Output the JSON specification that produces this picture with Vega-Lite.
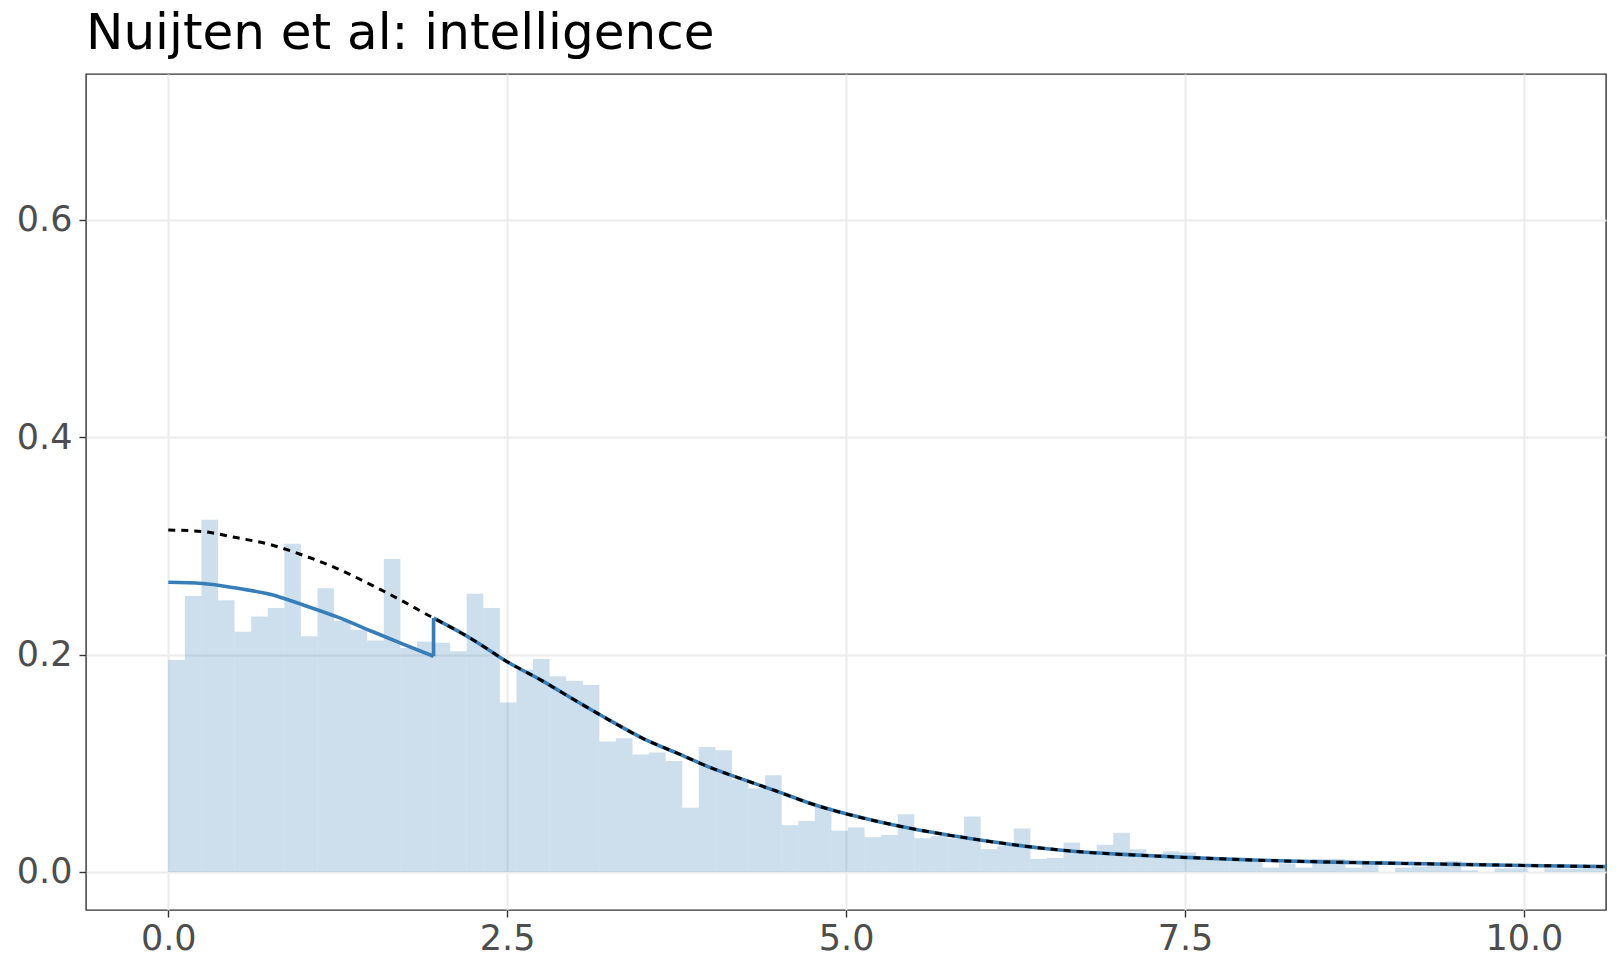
{
  "$schema": "https://vega.github.io/schema/vega-lite/v6.json",
  "description": "Nuijten et al: intelligence - histogram with adjusted and unadjusted density curves.",
  "width": 1520,
  "height": 836,
  "autosize": {"type": "none"},
  "padding": {"left": 86, "top": 74, "right": 14, "bottom": 62},
  "background": "white",
  "title": {
    "text": "Nuijten et al: intelligence",
    "anchor": "start",
    "frame": "group",
    "font": "DejaVu Sans",
    "fontSize": 50,
    "fontWeight": "normal",
    "color": "#000000",
    "baseline": "alphabetic",
    "offset": 25,
    "dy": 50
  },
  "datasets": {
    "hist": [
      {"lo": 0.0, "hi": 0.1223, "density": 0.195},
      {"lo": 0.1223, "hi": 0.2446, "density": 0.254},
      {"lo": 0.2446, "hi": 0.3669, "density": 0.324},
      {"lo": 0.3669, "hi": 0.4892, "density": 0.25},
      {"lo": 0.4892, "hi": 0.6115, "density": 0.221},
      {"lo": 0.6115, "hi": 0.7338, "density": 0.235},
      {"lo": 0.7338, "hi": 0.8561, "density": 0.243},
      {"lo": 0.8561, "hi": 0.9784, "density": 0.302},
      {"lo": 0.9784, "hi": 1.1007, "density": 0.217},
      {"lo": 1.1007, "hi": 1.223, "density": 0.261},
      {"lo": 1.223, "hi": 1.3453, "density": 0.231},
      {"lo": 1.3453, "hi": 1.4676, "density": 0.223},
      {"lo": 1.4676, "hi": 1.5899, "density": 0.213},
      {"lo": 1.5899, "hi": 1.7122, "density": 0.288},
      {"lo": 1.7122, "hi": 1.8345, "density": 0.206},
      {"lo": 1.8345, "hi": 1.9568, "density": 0.212},
      {"lo": 1.9568, "hi": 2.0791, "density": 0.211},
      {"lo": 2.0791, "hi": 2.2014, "density": 0.203},
      {"lo": 2.2014, "hi": 2.3237, "density": 0.256},
      {"lo": 2.3237, "hi": 2.446, "density": 0.243},
      {"lo": 2.446, "hi": 2.5683, "density": 0.156},
      {"lo": 2.5683, "hi": 2.6906, "density": 0.186},
      {"lo": 2.6906, "hi": 2.8129, "density": 0.196},
      {"lo": 2.8129, "hi": 2.9352, "density": 0.18},
      {"lo": 2.9352, "hi": 3.0575, "density": 0.176},
      {"lo": 3.0575, "hi": 3.1798, "density": 0.172},
      {"lo": 3.1798, "hi": 3.3021, "density": 0.12},
      {"lo": 3.3021, "hi": 3.4244, "density": 0.123},
      {"lo": 3.4244, "hi": 3.5467, "density": 0.108},
      {"lo": 3.5467, "hi": 3.669, "density": 0.11},
      {"lo": 3.669, "hi": 3.7913, "density": 0.102},
      {"lo": 3.7913, "hi": 3.9136, "density": 0.059},
      {"lo": 3.9136, "hi": 4.0359, "density": 0.115},
      {"lo": 4.0359, "hi": 4.1582, "density": 0.112},
      {"lo": 4.1582, "hi": 4.2805, "density": 0.085},
      {"lo": 4.2805, "hi": 4.4028, "density": 0.077},
      {"lo": 4.4028, "hi": 4.5251, "density": 0.089},
      {"lo": 4.5251, "hi": 4.6474, "density": 0.043},
      {"lo": 4.6474, "hi": 4.7697, "density": 0.047},
      {"lo": 4.7697, "hi": 4.892, "density": 0.06},
      {"lo": 4.892, "hi": 5.0143, "density": 0.038},
      {"lo": 5.0143, "hi": 5.1366, "density": 0.041},
      {"lo": 5.1366, "hi": 5.2589, "density": 0.032},
      {"lo": 5.2589, "hi": 5.3812, "density": 0.034},
      {"lo": 5.3812, "hi": 5.5035, "density": 0.053},
      {"lo": 5.5035, "hi": 5.6258, "density": 0.031},
      {"lo": 5.6258, "hi": 5.7481, "density": 0.033},
      {"lo": 5.7481, "hi": 5.8704, "density": 0.031},
      {"lo": 5.8704, "hi": 5.9927, "density": 0.051},
      {"lo": 5.9927, "hi": 6.115, "density": 0.021},
      {"lo": 6.115, "hi": 6.2373, "density": 0.024},
      {"lo": 6.2373, "hi": 6.3596, "density": 0.04},
      {"lo": 6.3596, "hi": 6.4819, "density": 0.012},
      {"lo": 6.4819, "hi": 6.6042, "density": 0.013},
      {"lo": 6.6042, "hi": 6.7265, "density": 0.027},
      {"lo": 6.7265, "hi": 6.8488, "density": 0.019},
      {"lo": 6.8488, "hi": 6.9711, "density": 0.025},
      {"lo": 6.9711, "hi": 7.0934, "density": 0.036},
      {"lo": 7.0934, "hi": 7.2157, "density": 0.021},
      {"lo": 7.2157, "hi": 7.338, "density": 0.015},
      {"lo": 7.338, "hi": 7.4603, "density": 0.019},
      {"lo": 7.4603, "hi": 7.5826, "density": 0.018},
      {"lo": 7.5826, "hi": 7.7049, "density": 0.012},
      {"lo": 7.7049, "hi": 7.8272, "density": 0.011},
      {"lo": 7.8272, "hi": 7.9495, "density": 0.011},
      {"lo": 7.9495, "hi": 8.0718, "density": 0.01},
      {"lo": 8.0718, "hi": 8.1941, "density": 0.004},
      {"lo": 8.1941, "hi": 8.3164, "density": 0.008},
      {"lo": 8.3164, "hi": 8.4387, "density": 0.004},
      {"lo": 8.4387, "hi": 8.561, "density": 0.012},
      {"lo": 8.561, "hi": 8.6833, "density": 0.012},
      {"lo": 8.6833, "hi": 8.8056, "density": 0.004},
      {"lo": 8.8056, "hi": 8.9279, "density": 0.01},
      {"lo": 8.9279, "hi": 9.0502, "density": 0.0},
      {"lo": 9.0502, "hi": 9.1725, "density": 0.004},
      {"lo": 9.1725, "hi": 9.2948, "density": 0.005},
      {"lo": 9.2948, "hi": 9.4171, "density": 0.008},
      {"lo": 9.4171, "hi": 9.5394, "density": 0.01},
      {"lo": 9.5394, "hi": 9.6617, "density": 0.0015},
      {"lo": 9.6617, "hi": 9.784, "density": 0.0},
      {"lo": 9.784, "hi": 9.9063, "density": 0.0034},
      {"lo": 9.9063, "hi": 10.0286, "density": 0.0034},
      {"lo": 10.0286, "hi": 10.1509, "density": 0.0},
      {"lo": 10.1509, "hi": 10.2732, "density": 0.0034},
      {"lo": 10.2732, "hi": 10.3955, "density": 0.003},
      {"lo": 10.3955, "hi": 10.5178, "density": 0.003},
      {"lo": 10.5178, "hi": 10.6401, "density": 0.003}
    ],
    "adjusted": [
      {"part": "below", "x": 0.0, "y": 0.2666},
      {"part": "below", "x": 0.25, "y": 0.2655},
      {"part": "below", "x": 0.5, "y": 0.2613},
      {"part": "below", "x": 0.75, "y": 0.2555},
      {"part": "below", "x": 1.0, "y": 0.2455},
      {"part": "below", "x": 1.25, "y": 0.2345},
      {"part": "below", "x": 1.5, "y": 0.2215},
      {"part": "below", "x": 1.75, "y": 0.2088},
      {"part": "below", "x": 1.957, "y": 0.1985},
      {"part": "jump", "x": 1.957, "y": 0.1985},
      {"part": "jump", "x": 1.9571, "y": 0.2336},
      {"part": "above", "x": 1.957, "y": 0.2336},
      {"part": "above", "x": 2.0, "y": 0.2308},
      {"part": "above", "x": 2.25, "y": 0.2135},
      {"part": "above", "x": 2.5, "y": 0.1935},
      {"part": "above", "x": 2.75, "y": 0.1765},
      {"part": "above", "x": 3.0, "y": 0.158},
      {"part": "above", "x": 3.25, "y": 0.14},
      {"part": "above", "x": 3.5, "y": 0.123},
      {"part": "above", "x": 3.75, "y": 0.1095},
      {"part": "above", "x": 4.0, "y": 0.096},
      {"part": "above", "x": 4.25, "y": 0.0847},
      {"part": "above", "x": 4.5, "y": 0.0738},
      {"part": "above", "x": 4.75, "y": 0.0625},
      {"part": "above", "x": 5.0, "y": 0.0535},
      {"part": "above", "x": 5.25, "y": 0.046},
      {"part": "above", "x": 5.5, "y": 0.0395},
      {"part": "above", "x": 5.75, "y": 0.034},
      {"part": "above", "x": 6.0, "y": 0.0292},
      {"part": "above", "x": 6.25, "y": 0.0248},
      {"part": "above", "x": 6.5, "y": 0.0212},
      {"part": "above", "x": 6.75, "y": 0.0184},
      {"part": "above", "x": 7.0, "y": 0.0164},
      {"part": "above", "x": 7.25, "y": 0.0149},
      {"part": "above", "x": 7.5, "y": 0.0134},
      {"part": "above", "x": 7.75, "y": 0.0121},
      {"part": "above", "x": 8.0, "y": 0.011},
      {"part": "above", "x": 8.5, "y": 0.0093},
      {"part": "above", "x": 9.0, "y": 0.0081},
      {"part": "above", "x": 9.5, "y": 0.007},
      {"part": "above", "x": 10.0, "y": 0.006},
      {"part": "above", "x": 10.7, "y": 0.0047}
    ],
    "unadjusted": [
      {"x": 0.0, "y": 0.3147},
      {"x": 0.25, "y": 0.3133},
      {"x": 0.5, "y": 0.3077},
      {"x": 0.75, "y": 0.3013},
      {"x": 1.0, "y": 0.2912},
      {"x": 1.25, "y": 0.279},
      {"x": 1.5, "y": 0.264},
      {"x": 1.75, "y": 0.2478},
      {"x": 1.957, "y": 0.2336},
      {"x": 2.0, "y": 0.2308},
      {"x": 2.25, "y": 0.2135},
      {"x": 2.5, "y": 0.1935},
      {"x": 2.75, "y": 0.1765},
      {"x": 3.0, "y": 0.158},
      {"x": 3.25, "y": 0.14},
      {"x": 3.5, "y": 0.123},
      {"x": 3.75, "y": 0.1095},
      {"x": 4.0, "y": 0.096},
      {"x": 4.25, "y": 0.0847},
      {"x": 4.5, "y": 0.0738},
      {"x": 4.75, "y": 0.0625},
      {"x": 5.0, "y": 0.0535},
      {"x": 5.25, "y": 0.046},
      {"x": 5.5, "y": 0.0395},
      {"x": 5.75, "y": 0.034},
      {"x": 6.0, "y": 0.0292},
      {"x": 6.25, "y": 0.0248},
      {"x": 6.5, "y": 0.0212},
      {"x": 6.75, "y": 0.0184},
      {"x": 7.0, "y": 0.0164},
      {"x": 7.25, "y": 0.0149},
      {"x": 7.5, "y": 0.0134},
      {"x": 7.75, "y": 0.0121},
      {"x": 8.0, "y": 0.011},
      {"x": 8.5, "y": 0.0093},
      {"x": 9.0, "y": 0.0081},
      {"x": 9.5, "y": 0.007},
      {"x": 10.0, "y": 0.006},
      {"x": 10.7, "y": 0.0047}
    ]
  },
  "encoding": {
    "x": {
      "type": "quantitative",
      "scale": {"domain": [-0.607, 10.606], "nice": false, "zero": false},
      "axis": {"values": [0, 2.5, 5, 7.5, 10], "format": ".1f", "title": null, "labelPadding": 4}
    },
    "y": {
      "type": "quantitative",
      "scale": {"domain": [-0.035, 0.7343], "nice": false, "zero": false},
      "axis": {"values": [0, 0.2, 0.4, 0.6], "format": ".1f", "title": null, "labelPadding": 7}
    }
  },
  "layer": [
    {
      "data": {"name": "hist"},
      "mark": {"type": "rect", "fill": "#377eb8", "fillOpacity": 0.25, "clip": true},
      "encoding": {
        "x": {"field": "lo"},
        "x2": {"field": "hi"},
        "y": {"field": "density"},
        "y2": {"datum": 0}
      }
    },
    {
      "data": {"name": "adjusted"},
      "mark": {"type": "line", "stroke": "#377eb8", "strokeWidth": 3.6, "interpolate": "monotone", "clip": true},
      "encoding": {
        "x": {"field": "x"},
        "y": {"field": "y"},
        "detail": {"field": "part", "type": "nominal"}
      }
    },
    {
      "data": {"name": "unadjusted"},
      "mark": {"type": "line", "stroke": "#000000", "strokeWidth": 3, "strokeDash": [7, 6], "interpolate": "monotone", "clip": true},
      "encoding": {
        "x": {"field": "x"},
        "y": {"field": "y"}
      }
    }
  ],
  "config": {
    "view": {"stroke": "#333333", "strokeWidth": 1.4},
    "axis": {
      "domain": false,
      "grid": true,
      "gridColor": "#ebebeb",
      "gridWidth": 2,
      "ticks": true,
      "tickColor": "#333333",
      "tickSize": 7,
      "tickWidth": 1.4,
      "labelFont": "DejaVu Sans",
      "labelFontSize": 35,
      "labelColor": "#4d4d4d"
    }
  }
}
